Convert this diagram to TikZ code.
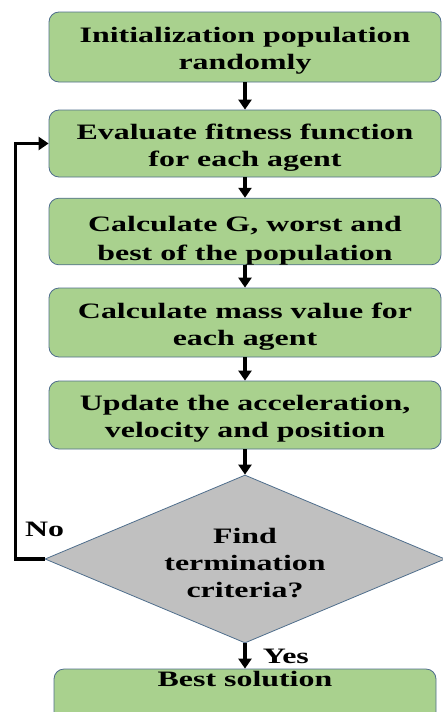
\documentclass[tikz,border=0pt]{standalone}
\usepackage{fontspec}
\setmainfont{Liberation Serif}[FakeStretch=1.45]
\usepackage{tikz}
\usetikzlibrary{shapes,arrows.meta,positioning}
\usepackage{xcolor}
\definecolor{mgreen}{HTML}{A9D18E}
\definecolor{mgray}{HTML}{C0C0C0}
\definecolor{mframe}{HTML}{4F6E8C}
\tikzstyle{box}=[rectangle, rounded corners=10pt, draw=mframe, fill=mgreen, line width=0.8pt, minimum width=392pt, inner sep=0pt, align=center, font=\bfseries]
\tikzstyle{test}=[diamond, aspect=2.38, draw=mframe, fill=mgray, line width=0.8pt, minimum width=400pt, minimum height=168pt, inner sep=0pt, align=center, font=\bfseries]
\tikzstyle{l1}=[line width=3.5, -{Triangle[width=13pt,length=10pt]}]
\tikzstyle{lab}=[font=\bfseries, inner sep=0pt]
\newcommand{\padtop}[1]{\rule{0pt}{#1}}

\begin{document}
\begin{tikzpicture}[on grid, x=1pt, y=1pt]
    \useasboundingbox (0,0) rectangle (442,-712);
    \fontsize{22}{27}\selectfont

    \node (init) [box, minimum height=70pt] at (245,-47) {\padtop{23pt}Initialization population\\randomly};
    \node (eval) [box, minimum height=67pt, below = 96.5pt of init] {\padtop{23pt}Evaluate fitness function\\for each agent};
    \node (calc) [box, minimum height=63pt, below = 88pt of eval] {\padtop{33pt}Calculate G, worst and\\[2pt]best of the population};
    \node (mass) [box, minimum height=69pt, below = 91pt of calc] {\padtop{23pt}Calculate mass value for\\each agent};
    \node (upd) [box, minimum height=68pt, below = 92.5pt of mass] {\padtop{23pt}Update the acceleration,\\velocity and position};
    \node (find) [test, below = 144pt of upd] {\padtop{23pt}Find\\termination\\criteria?};
    \node (best) [box, minimum width=382pt, minimum height=60pt, text height=17pt, text depth=43pt, below = 140pt of find] {Best solution};

    \draw[l1] (init) -- (eval);
    \draw[l1] (eval) -- (calc);
    \draw[l1] (calc) -- (mass);
    \draw[l1] (mass) -- (upd);
    \draw[l1] (upd) -- (find);
    \draw[l1] (find) -- (best) node[lab, midway, anchor=west, xshift=16pt] {Yes};

    % loop back when not done
    \draw[l1] (find.west) -- ++(-29,0) |- (eval.west);
    \node (no) [lab, above = 22pt of find.west] {No};

\end{tikzpicture}
\end{document}
